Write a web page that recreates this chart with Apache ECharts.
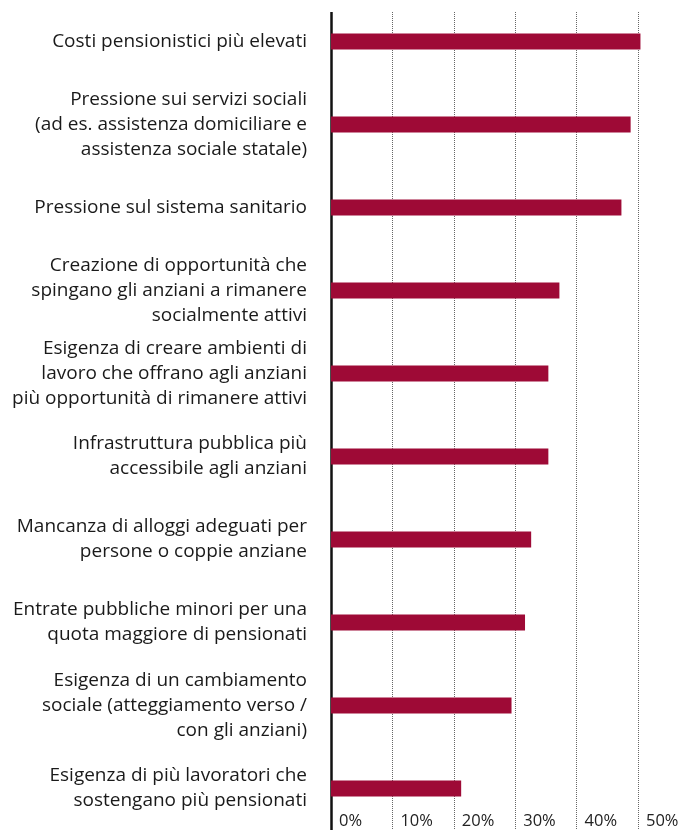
<!DOCTYPE html>
<html>
<head>
    <meta charset="UTF-8">
    <title>Sfide invecchiamento</title>
    <script src="https://cdn.jsdelivr.net/npm/echarts@6/dist/echarts.min.js"></script>
    <style>
        html, body { margin: 0; padding: 0; background: #fff; }
    </style>
</head>
<body>
<div id="chart" style="width: 689px; height: 830px"></div>
<script>
    var categories = [
        'Costi pensionistici più elevati',
        'Pressione sui servizi sociali\n(ad es. assistenza domiciliare e\nassistenza sociale statale)',
        'Pressione sul sistema sanitario',
        'Creazione di opportunità che\nspingano gli anziani a rimanere\nsocialmente attivi',
        'Esigenza di creare ambienti di\nlavoro che offrano agli anziani\npiù opportunità di rimanere attivi',
        'Infrastruttura pubblica più\naccessibile agli anziani',
        'Mancanza di alloggi adeguati per\npersone o coppie anziane',
        'Entrate pubbliche minori per una\nquota maggiore di pensionati',
        'Esigenza di un cambiamento\nsociale (atteggiamento verso /\ncon gli anziani)',
        'Esigenza di più lavoratori che\nsostengano più pensionati'
    ];
    var values = [50.4, 48.8, 47.3, 37.2, 35.4, 35.4, 32.6, 31.6, 29.4, 21.2];
    var ticks = [0, 10, 20, 30, 40, 50];

    var myChart = echarts.init(document.getElementById('chart'));
    myChart.setOption({
        backgroundColor: '#fff',
        animation: false,
        grid: { left: 331, right: 51, top: -6, bottom: -3, containLabel: false },
        xAxis: {
            type: 'value',
            min: ticks[0],
            max: ticks[ticks.length - 1],
            interval: 10,
            axisLine: { show: false },
            axisTick: { show: false },
            splitLine: { show: true, lineStyle: { color: '#666', type: 'dotted', width: 1 } },
            axisLabel: {
                inside: true,
                margin: 0,
                align: 'left',
                padding: [0, 0, 0, 8],
                fontFamily: 'Open Sans',
                fontSize: 16.5,
                color: '#222',
                formatter: '{value}%'
            }
        },
        yAxis: {
            type: 'category',
            inverse: true,
            data: categories,
            axisLine: { show: true, lineStyle: { color: '#111', width: 2.5 } },
            axisTick: { show: false },
            axisLabel: {
                margin: 24,
                align: 'right',
                fontFamily: 'Open Sans',
                fontSize: 19,
                lineHeight: 25,
                color: '#1a1a1a'
            }
        },
        series: [{
            type: 'bar',
            data: values,
            barWidth: 16,
            clip: false,
            itemStyle: { color: '#9e0a36' }
        }],
        graphic: [{
            type: 'rect',
            shape: { x: 320, y: 0, width: 369, height: 12 },
            style: { fill: '#fff' },
            z: 100
        }]
    });
</script>
</body>
</html>
